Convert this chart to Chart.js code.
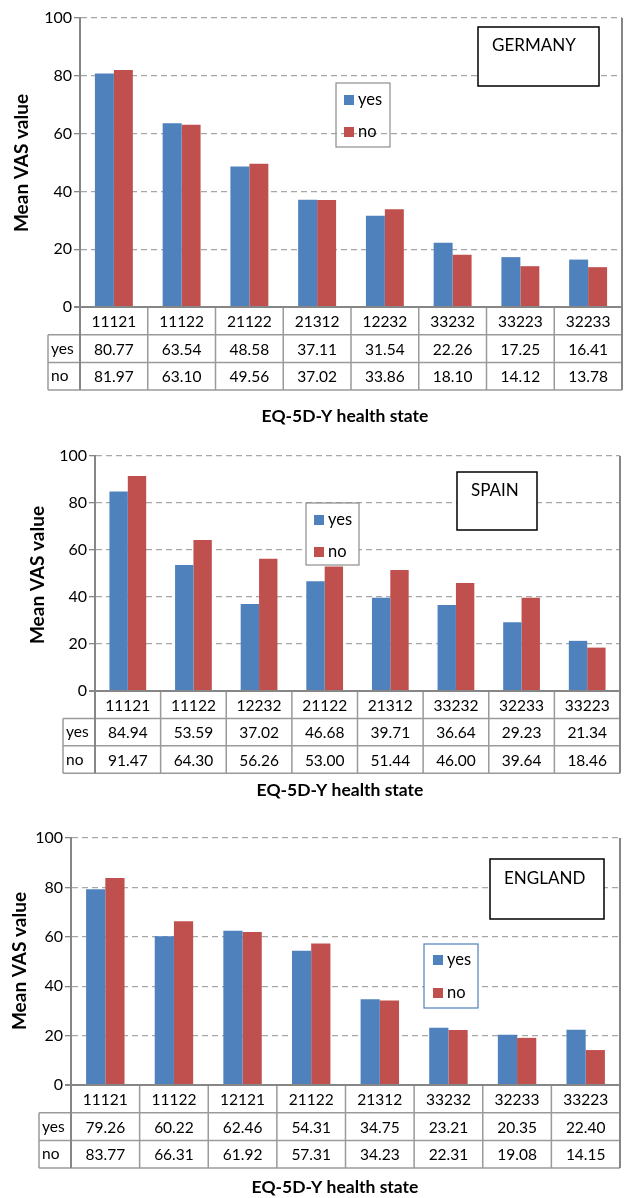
<!DOCTYPE html>
<html>
<head>
<meta charset="utf-8">
<script src="https://cdn.jsdelivr.net/npm/chart.js@4/dist/chart.umd.min.js"></script>
<style>
  body { margin: 0; background: #fff; }
  #wrap { position: relative; width: 627px; height: 1198px; }
  canvas { position: absolute; left: 0; }
</style>
</head>
<body>
<div id="wrap">
  <canvas id="germany" width="627" height="430" style="top:0px"></canvas>
  <canvas id="spain" width="627" height="380" style="top:430px"></canvas>
  <canvas id="england" width="627" height="388" style="top:810px"></canvas>
</div>
<script>
const seriesNames = ['yes', 'no'];
const yTicks = [0, 20, 40, 60, 80, 100];

const germanyStates = ['11121', '11122', '21122', '21312', '12232', '33232', '33223', '32233'];
const germanyYes = [80.77, 63.54, 48.58, 37.11, 31.54, 22.26, 17.25, 16.41];
const germanyNo = [81.97, 63.10, 49.56, 37.02, 33.86, 18.10, 14.12, 13.78];

const spainStates = ['11121', '11122', '12232', '21122', '21312', '33232', '32233', '33223'];
const spainYes = [84.94, 53.59, 37.02, 46.68, 39.71, 36.64, 29.23, 21.34];
const spainNo = [91.47, 64.30, 56.26, 53.00, 51.44, 46.00, 39.64, 18.46];

const englandStates = ['11121', '11122', '12121', '21122', '21312', '33232', '32233', '33223'];
const englandYes = [79.26, 60.22, 62.46, 54.31, 34.75, 23.21, 20.35, 22.40];
const englandNo = [83.77, 66.31, 61.92, 57.31, 34.23, 22.31, 19.08, 14.15];

const FONT = 'Lato, "Open Sans", sans-serif';
const BLUE = '#4F81BD';
const RED = '#C0504D';
const LINE = '#9a9a9a';
const AXIS = '#868686';

function drawText(ctx, txt, x, y, font, align) {
  ctx.font = font;
  ctx.fillStyle = '#000';
  ctx.textAlign = align || 'center';
  ctx.textBaseline = 'middle';
  ctx.fillText(txt, x, y);
}

function makeChart(id, states, yes, no, cfg) {
  // draws the data table under the axis, titles, country box and legend
  const decor = {
    id: 'decor_' + id,
    afterDraw(chart) {
      const ctx = chart.ctx;
      const a = chart.chartArea;
      const x = chart.scales.x;
      const rowH = cfg.rowH;
      const t0 = a.bottom, t1 = t0 + rowH, t2 = t1 + rowH, t3 = t2 + rowH;
      ctx.save();

      // cell borders
      const edges = [a.left];
      for (let i = 1; i < states.length; i++) {
        edges.push((x.getPixelForValue(i - 1) + x.getPixelForValue(i)) / 2);
      }
      edges.push(a.right);
      ctx.strokeStyle = LINE;
      ctx.lineWidth = 1.5;
      ctx.beginPath();
      [t1, t2, t3].forEach(y => { ctx.moveTo(cfg.labelLeft, y); ctx.lineTo(a.right, y); });
      edges.slice(1, -1).forEach(e => { ctx.moveTo(e, t0); ctx.lineTo(e, t3); });
      ctx.moveTo(cfg.labelLeft, t1); ctx.lineTo(cfg.labelLeft, t3);
      ctx.stroke();

      ctx.strokeStyle = AXIS;
      ctx.lineWidth = 2;
      ctx.beginPath();
      ctx.moveTo(a.left - 6, t0); ctx.lineTo(a.right, t0);
      ctx.moveTo(a.left, t0); ctx.lineTo(a.left, t3);
      ctx.moveTo(a.right, a.top); ctx.lineTo(a.right, t3);
      ctx.stroke();

      // cell text
      const f = '15.5px ' + FONT;
      states.forEach((s, i) => {
        const cx = x.getPixelForValue(i);
        drawText(ctx, s, cx, t0 + rowH / 2 + 1, f);
        drawText(ctx, yes[i].toFixed(2), cx, t1 + rowH / 2 + 1, f);
        drawText(ctx, no[i].toFixed(2), cx, t2 + rowH / 2 + 1, f);
      });
      drawText(ctx, seriesNames[0], cfg.labelLeft + 3, t1 + rowH / 2, f, 'left');
      drawText(ctx, seriesNames[1], cfg.labelLeft + 3, t2 + rowH / 2, f, 'left');

      // axis titles
      drawText(ctx, 'EQ-5D-Y health state', cfg.xTitle[0], cfg.xTitle[1], 'bold 17.5px ' + FONT);
      ctx.save();
      ctx.translate(cfg.yTitle[0], cfg.yTitle[1]);
      ctx.rotate(-Math.PI / 2);
      drawText(ctx, 'Mean VAS value', 0, 0, 'bold 19px ' + FONT);
      ctx.restore();

      // country box
      const b = cfg.box;
      ctx.fillStyle = '#fff';
      ctx.fillRect(b.x, b.y, b.w, b.h);
      ctx.strokeStyle = '#000';
      ctx.lineWidth = 1.5;
      ctx.strokeRect(b.x, b.y, b.w, b.h);
      drawText(ctx, b.text, b.tx, b.ty, '17px ' + FONT, 'left');

      // legend
      const l = cfg.legend;
      if (l.fill) {
        ctx.fillStyle = '#fff';
        ctx.fillRect(l.x, l.y, l.w, l.h);
      }
      ctx.strokeStyle = l.border;
      ctx.lineWidth = 1.2;
      ctx.strokeRect(l.x, l.y, l.w, l.h);
      [[BLUE, seriesNames[0], l.yesY], [RED, seriesNames[1], l.noY]].forEach(([c, name, y]) => {
        ctx.fillStyle = c;
        ctx.fillRect(l.sx, y - 5, 10, 10);
        drawText(ctx, name, l.sx + 14, y, '16.5px ' + FONT, 'left');
      });
      ctx.restore();
    }
  };

  return new Chart(document.getElementById(id), {
    type: 'bar',
    data: {
      labels: states,
      datasets: [
        { label: seriesNames[0], data: yes, backgroundColor: BLUE },
        { label: seriesNames[1], data: no, backgroundColor: RED }
      ]
    },
    options: {
      responsive: false,
      animation: false,
      events: [],
      categoryPercentage: 0.56,
      barPercentage: 1.0,
      layout: { padding: { left: 0, right: cfg.padRight, top: cfg.top, bottom: cfg.padBottom } },
      plugins: { legend: { display: false }, tooltip: { enabled: false } },
      scales: {
        x: { display: false, offset: true },
        y: {
          min: yTicks[0],
          max: yTicks[yTicks.length - 1],
          afterBuildTicks: (s) => { s.ticks = yTicks.map(v => ({ value: v })); },
          ticks: { padding: 2, color: '#000', font: { family: FONT, size: 16 } },
          grid: { color: '#a6a6a6', lineWidth: 1.3, tickLength: 6, tickColor: AXIS, tickBorderDash: [] },
          border: { display: true, color: AXIS, width: 2, dash: [6, 4] },
          afterFit: (s) => { s.width = cfg.axisX; }
        }
      }
    },
    plugins: [decor]
  });
}

makeChart('germany', germanyStates, germanyYes, germanyNo, {
  top: 18, padBottom: 123, padRight: 5, axisX: 80, labelLeft: 48, rowH: 27.7,
  xTitle: [345, 416], yTitle: [22, 163],
  box: { x: 478, y: 27, w: 121, h: 59, tx: 492, ty: 46, text: 'GERMANY' },
  legend: { x: 336, y: 83, w: 54, h: 64, fill: false, border: '#8c8c8c', sx: 344, yesY: 100, noY: 132 }
});

makeChart('spain', spainStates, spainYes, spainNo, {
  top: 26, padBottom: 119, padRight: 7, axisX: 95, labelLeft: 63, rowH: 27.4,
  xTitle: [340, 360], yTitle: [38, 145],
  box: { x: 457, y: 42, w: 80, h: 58, tx: 471, ty: 61, text: 'SPAIN' },
  legend: { x: 306, y: 73, w: 53, h: 62, fill: true, border: '#8c8c8c', sx: 314, yesY: 90, noY: 122 }
});

makeChart('england', englandStates, englandYes, englandNo, {
  top: 28, padBottom: 113, padRight: 7, axisX: 71, labelLeft: 39, rowH: 27.7,
  xTitle: [335, 377], yTitle: [20, 151],
  box: { x: 490, y: 49, w: 114, h: 60, tx: 504, ty: 69, text: 'ENGLAND' },
  legend: { x: 424, y: 134, w: 54, h: 64, fill: true, border: '#4f81bd', sx: 433, yesY: 150, noY: 183 }
});
</script>
</body>
</html>
